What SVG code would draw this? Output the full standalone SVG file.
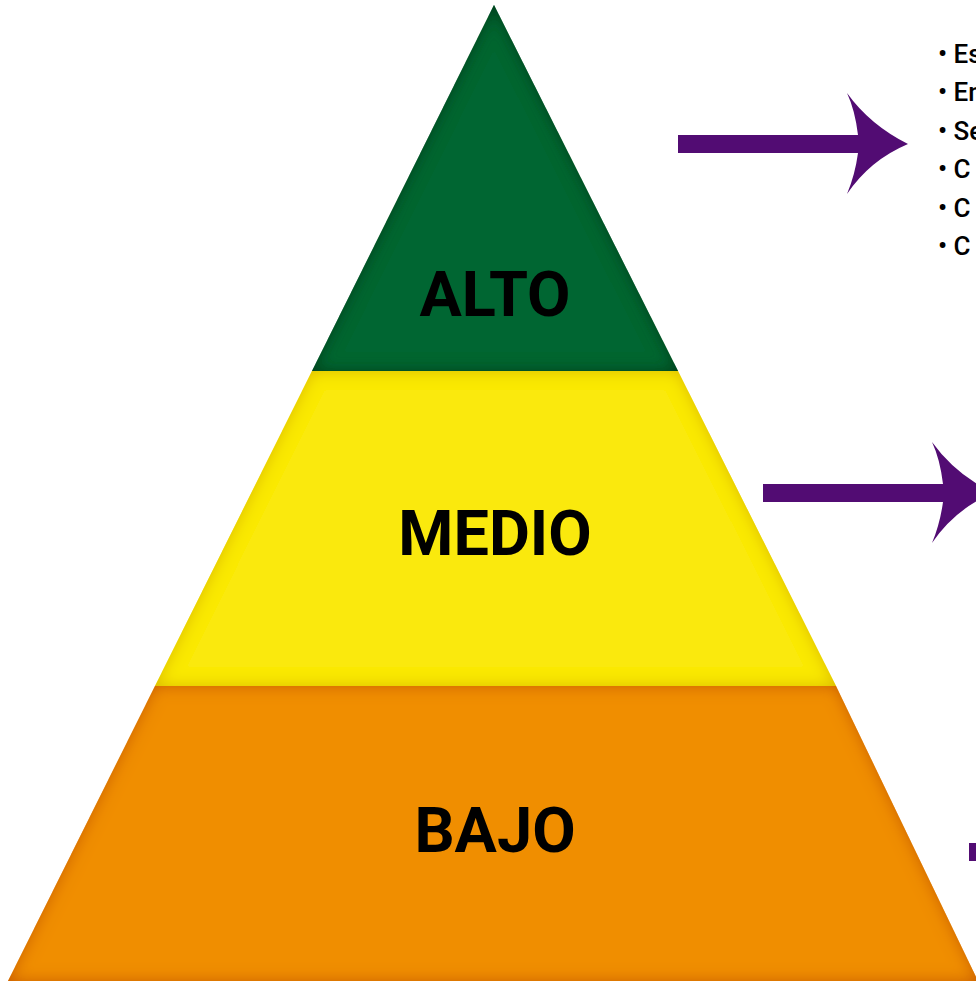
<svg xmlns="http://www.w3.org/2000/svg" width="976" height="981" viewBox="0 0 976 981">
<defs>
<style>
.lbl{font-family:Roboto,"Liberation Sans",sans-serif;font-weight:700;font-size:63px;fill:#000;text-anchor:middle}
.bul{font-family:Roboto,"Liberation Sans",sans-serif;font-weight:500;font-size:26px;fill:#000}
.arr{fill:#520c73}
</style>
<filter id="inG" x="-10%" y="-10%" width="120%" height="120%">
<feComponentTransfer in="SourceAlpha" result="inv"><feFuncA type="table" tableValues="1 0"/></feComponentTransfer>
<feGaussianBlur in="inv" stdDeviation="8" result="b"/>
<feFlood flood-color="#003a1a"/>
<feComposite in2="b" operator="in"/>
<feComposite in2="SourceAlpha" operator="in" result="sh"/>
<feMerge><feMergeNode in="SourceGraphic"/><feMergeNode in="sh"/></feMerge>
</filter>
<filter id="inY" x="-10%" y="-10%" width="120%" height="120%">
<feComponentTransfer in="SourceAlpha" result="inv"><feFuncA type="table" tableValues="1 0"/></feComponentTransfer>
<feGaussianBlur in="inv" stdDeviation="8" result="b"/>
<feFlood flood-color="#d9b800"/>
<feComposite in2="b" operator="in"/>
<feComposite in2="SourceAlpha" operator="in" result="sh"/>
<feMerge><feMergeNode in="SourceGraphic"/><feMergeNode in="sh"/></feMerge>
</filter>
<filter id="inO" x="-10%" y="-10%" width="120%" height="120%">
<feComponentTransfer in="SourceAlpha" result="inv"><feFuncA type="table" tableValues="1 0"/></feComponentTransfer>
<feGaussianBlur in="inv" stdDeviation="8" result="b"/>
<feFlood flood-color="#c85800"/>
<feComposite in2="b" operator="in"/>
<feComposite in2="SourceAlpha" operator="in" result="sh"/>
<feMerge><feMergeNode in="SourceGraphic"/><feMergeNode in="sh"/></feMerge>
</filter>
<path id="arrow" d="M0,0 L180,0 Q177,-25 169,-42 Q192,-10 230,9 Q192,25 169,59 Q177,40 180,18 L0,18 Z"/>
</defs>
<rect width="976" height="981" fill="#fff"/>
<g id="bajo">
<polygon points="155,686 836,686 978,981 8,981" fill="#f08e00" filter="url(#inO)"/>
<text class="lbl" x="495" y="852">BAJO</text>
</g>
<g id="medio">
<polygon points="312,371 678,371 836,686 155,686" fill="#fae90c" filter="url(#inY)"/>
<text class="lbl" x="495" y="555">MEDIO</text>
</g>
<g id="alto">
<polygon points="494,5 678,371 312,371" fill="#006633" filter="url(#inG)"/>
<text class="lbl" x="495" y="316">ALTO</text>
</g>
<g id="connectors">
<use href="#arrow" class="arr" x="678" y="135"/>
<use href="#arrow" class="arr" x="763" y="484"/>
<use href="#arrow" class="arr" x="969" y="843"/>
</g>
<g id="list">
<text class="bul" x="938" y="63">• Es</text>
<text class="bul" x="938" y="101">• En</text>
<text class="bul" x="938" y="140">• Se</text>
<text class="bul" x="938" y="178">• C</text>
<text class="bul" x="938" y="217">• C</text>
<text class="bul" x="938" y="255">• C</text>
</g>
</svg>
